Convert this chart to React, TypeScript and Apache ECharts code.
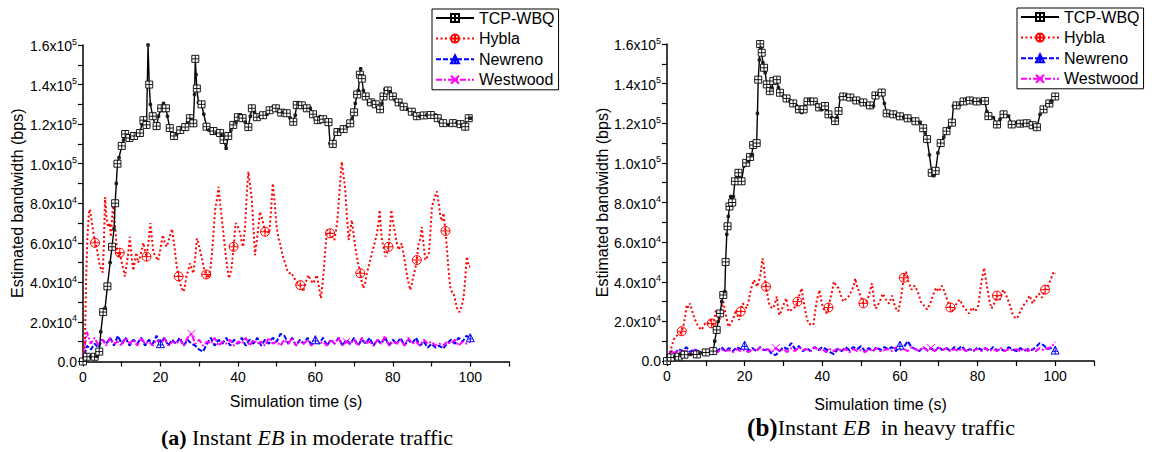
import React, { useEffect, useRef } from 'react';
import * as echarts from 'echarts';

// ---------- tick labels ----------
const xLabelValues = [0, 20, 40, 60, 80, 100];
const yLabelValues = [0, 20, 40, 60, 80, 100, 120, 140, 160];
const yLabelMantissa = ['0.0', '2.0', '4.0', '6.0', '8.0', '1.0', '1.2', '1.4', '1.6'];
const yLabelExp = ['', '4', '4', '4', '4', '5', '5', '5', '5'];
const seriesNames = ['TCP-WBQ', 'Hybla', 'Newreno', 'Westwood'];

// ---------- (a) moderate traffic, values in kbps ----------
const wbqModerate = [
  [0, 0], [0.5, 2], [1, 2.4], [2, 2.4], [3, 2.4], [3.6, 2.6], [4.2, 5], [4.6, 15], [5.2, 25], [5.7, 27], [6.3, 38], [7, 50], [7.5, 58], [8, 67],
  [8.3, 80], [8.6, 90], [8.9, 100], [9.3, 103], [10, 109], [10.5, 112], [10.9, 115], [11.5, 114], [12, 113], [12.6, 113], [13.2, 114], [14, 115],
  [14.7, 115.5], [15.2, 120], [15.6, 122], [16, 121], [16.4, 119.6], [16.8, 160], [17.1, 140], [17.4, 130], [18, 124], [18.6, 119.6], [19, 119],
  [19.5, 124], [20.2, 128], [20.8, 130.5], [21.4, 128], [21.8, 124], [22.4, 118], [22.9, 114.5], [23.5, 114], [24.2, 115], [25.1, 117], [25.7, 118],
  [26.4, 118.5], [27, 121], [27.6, 123], [28, 122], [28.5, 120.4], [28.8, 135], [29, 153], [29.2, 145], [29.4, 138], [29.8, 131], [30.6, 130],
  [31.2, 125], [31.9, 118.7], [32.5, 117], [33.7, 116.5], [34.4, 115.4], [35.4, 115.5], [35.8, 114.5], [36.3, 112], [36.95, 107.8], [37.5, 114],
  [38.2, 117], [38.8, 119.6], [39.5, 121], [40, 123.5], [40.6, 124.6], [41.2, 123], [41.9, 121], [42.7, 118.5], [43.2, 124], [43.6, 128], [44.3, 126],
  [44.9, 123.5], [45.7, 123.8], [46.5, 124.5], [47.5, 125], [48.2, 127], [49.2, 128.7], [49.8, 128], [50.5, 126.3], [51.2, 125.8], [51.8, 126],
  [52.6, 125.5], [53.5, 123], [54.3, 121.2], [54.8, 124.5], [55.2, 129.7], [55.8, 130.5], [56.5, 129.5], [57.2, 128.5], [57.8, 128], [58.7, 128],
  [59.4, 125], [60, 122.5], [60.6, 122], [61.2, 123.8], [62, 122.5], [62.8, 121.5], [63.4, 121], [63.8, 110.3], [64.5, 110], [65.1, 115], [65.7, 116],
  [66.4, 117], [67.3, 117.5], [68.2, 119], [69, 120.4], [69.5, 123], [70, 126], [70.3, 130.5], [70.8, 135], [71.1, 137], [71.5, 145], [71.7, 148],
  [72, 143], [72.4, 137], [73, 134], [73.7, 130.5], [74.4, 131], [75, 131.3], [75.6, 130], [76.3, 128], [76.7, 127.5], [77.2, 130.5], [77.6, 134],
  [78, 137.5], [78.7, 137], [79.3, 136.4], [80, 134], [80.6, 132.2], [81.5, 131], [82.2, 130], [82.8, 128.8], [83.8, 127.5], [84.9, 126.3], [85.5, 125],
  [86.2, 124], [87, 124], [88, 124.4], [88.8, 124.6], [89.8, 124.6], [91, 124.6], [91.6, 123], [92.2, 121], [93, 120.5], [94.4, 119.6], [95.5, 120.5],
  [96.6, 120.8], [97.5, 120], [98.3, 119], [98.7, 118.7], [99.1, 122.5], [99.6, 123], [100, 123],
];

const hyblaModerate = [
  [0, 0], [0.5, 10], [0.8, 41], [1.1, 61], [1.5, 75], [1.8, 77], [2.3, 70], [2.7, 65], [3.1, 60], [3.5, 58], [4, 52], [4.4, 48], [5.1, 45], [5.4, 60],
  [5.7, 83], [6.1, 72], [6.5, 68], [6.9, 70], [7.2, 63], [7.5, 72], [7.8, 81], [8.3, 68], [8.7, 58], [9.1, 53], [9.5, 55], [9.9, 51], [10.4, 47],
  [10.8, 43], [11.2, 48], [11.7, 55], [12.1, 63], [12.6, 52], [13, 46], [13.4, 51], [13.8, 55], [14.2, 50], [14.5, 51], [15, 55], [15.6, 60], [16, 56],
  [16.4, 53], [16.9, 60], [17.4, 70], [17.8, 62], [18.2, 55], [18.8, 53], [19.4, 51], [20, 57], [20.6, 64], [21.1, 60], [21.6, 58], [22.1, 61],
  [22.5, 64], [23, 67], [23.5, 60], [24.2, 48], [24.7, 43], [25.1, 39.5], [25.6, 36.5], [26, 35.3], [26.4, 39], [26.7, 43], [27.2, 46], [27.6, 49.6],
  [28.1, 47], [28.5, 44.6], [29, 53], [29.4, 62.2], [29.8, 60], [30.2, 56.4], [30.8, 51], [31.3, 46.3], [31.8, 44], [32.4, 42], [32.9, 47], [33.3, 54.6],
  [33.7, 65], [34.1, 76.6], [34.6, 82], [35, 88.3], [35.4, 80], [35.8, 73.2], [36.4, 62], [36.9, 53], [37.3, 47], [37.7, 42], [38.1, 45], [38.4, 48],
  [38.9, 58], [39.4, 70], [40, 68], [40.6, 64.8], [41, 60], [41.4, 58], [41.9, 70], [42.3, 85], [42.7, 96], [43.1, 90], [43.6, 81.6], [44, 68],
  [44.4, 53.8], [45, 63], [45.7, 75.7], [46.3, 72], [47, 65.6], [47.5, 66], [48.1, 64.8], [48.5, 75], [49, 90], [49.5, 80], [50, 68], [50.5, 62],
  [50.9, 59.7], [51.5, 54], [52.2, 49.6], [52.8, 46], [53.3, 44.6], [53.8, 45], [54.3, 43], [55.2, 40], [56.1, 38.6], [56.5, 37], [56.9, 35.3],
  [57.5, 40], [58.2, 43.7], [58.8, 41], [59.5, 39.5], [60, 42], [60.4, 43.7], [60.9, 38], [61.4, 32], [61.8, 38], [62.1, 44.6], [62.5, 55], [63, 66.5],
  [63.4, 65], [63.8, 64.8], [64.4, 63], [64.9, 61.4], [65.3, 66], [65.7, 71.5], [66.2, 85], [66.8, 101], [67.2, 95], [67.7, 87.4], [68.2, 72],
  [68.6, 61.4], [69, 66], [69.4, 71.5], [69.9, 64], [70.3, 58], [71, 50], [71.6, 44.6], [72, 40], [72.4, 37], [72.9, 40], [73.3, 44.6], [74, 50],
  [74.6, 54.6], [75.2, 59], [75.9, 64.8], [76.3, 70], [76.6, 76.6], [76.9, 68], [77.2, 61.4], [77.7, 57], [78.1, 53], [78.5, 55], [78.9, 58], [79.3, 68],
  [79.6, 76.6], [80.1, 70], [80.6, 64.8], [81, 60], [81.5, 56.4], [81.9, 58], [82.3, 59.7], [82.8, 54], [83.2, 49.6], [83.8, 42], [84.5, 36.2],
  [84.9, 39], [85.3, 43], [85.8, 47], [86.2, 51.3], [86.6, 59], [87.1, 62], [87.5, 68], [88, 58], [88.4, 51.3], [88.9, 53], [89.3, 54.6], [89.7, 65],
  [90.1, 78.3], [90.8, 83], [91.4, 86], [91.9, 79], [92.3, 73.2], [92.7, 71], [93.1, 75], [93.6, 66], [94, 56.4], [94.4, 46], [94.8, 38], [95.3, 35],
  [95.7, 34.5], [96.2, 30], [96.7, 26], [97.2, 25], [97.8, 28], [98.3, 32.8], [98.7, 42], [99.1, 53], [99.6, 48], [100, 48],
];

// one value per second, t = 0 .. 100
const newrenoModerate = [
  0, 8, 6, 9, 7, 11, 9, 12, 8, 13, 9, 12, 8, 11, 9, 12, 8, 11, 9, 13, 9, 12, 8, 11, 9, 12, 8, 11, 9, 8, 6, 5, 9, 12, 8, 11, 9, 12, 8, 11, 9, 12, 8,
  11, 9, 12, 8, 11, 9, 12, 10, 14, 13, 9, 12, 8, 11, 9, 12, 8, 11, 9, 12, 8, 11, 9, 12, 8, 11, 9, 12, 8, 11, 9, 12, 8, 11, 9, 12, 8, 11, 9, 12, 8,
  11, 9, 12, 8, 10, 7, 9, 7, 8, 6.5, 9, 11, 9, 12, 10, 13, 12,
];
const westwoodModerate = [
  2, 15, 9, 12, 8, 11, 8, 12, 9, 10, 8, 12, 9, 11, 8, 12, 9, 10, 8, 11, 9, 12, 8, 10, 9, 11, 8, 12, 14, 9, 11, 8, 10, 9, 12, 8, 10, 9, 11, 8, 10,
  9, 12, 8, 11, 9, 10, 8, 12, 9, 10, 8, 11, 9, 12, 8, 10, 9, 11, 8, 12, 9, 10, 8, 11, 9, 12, 8, 10, 9, 11, 8, 12, 9, 10, 8, 11, 9, 13, 8, 10, 9,
  11, 8, 12, 9, 10, 8, 11, 9, 10, 8, 9, 8, 10, 9, 11, 8, 10, 9, 10,
];

// ---------- (b) heavy traffic, values in kbps ----------
const wbqHeavy = [
  [0, 0], [0.5, 1.5], [1, 1.8], [2, 2], [3, 2.2], [3.5, 3.5], [4.5, 3.2], [6, 3.3], [7.7, 3.3], [8.5, 4], [10, 4.3], [11.5, 5], [11.9, 5], [12.3, 10],
  [12.8, 15.7], [13.2, 20], [13.7, 24], [14.1, 30], [14.5, 33.3], [14.9, 35], [15.1, 50], [15.4, 63.9], [15.6, 68], [15.8, 73], [16.1, 78], [16.4, 83],
  [16.8, 80], [17.1, 83], [17.5, 90.7], [18, 93], [18.4, 95], [18.8, 92], [19.2, 90.7], [19.8, 98.4], [20.4, 100], [21, 101], [21.4, 103], [21.8, 104],
  [22.2, 109], [22.7, 110.5], [23.1, 110], [23.3, 125], [23.5, 142], [23.8, 152], [24, 160], [24.2, 158], [24.4, 155.6], [24.7, 150.6], [25, 148],
  [25.3, 145.5], [25.7, 139.6], [26.1, 137], [26.5, 136.2], [27, 138], [27.4, 141.3], [27.8, 142], [28.3, 142], [28.7, 138], [29.1, 135.4], [30, 133.7],
  [30.8, 132.5], [31.7, 131.2], [32.5, 130], [33.4, 128.7], [34, 127], [34.7, 125.4], [35.2, 127], [35.6, 129.5], [36.2, 131], [36.9, 132], [37.8, 131],
  [38.6, 129.5], [39.2, 128], [39.9, 127], [40.7, 128.7], [41.2, 126], [41.6, 124.5], [42.4, 122.8], [43.3, 121.1], [43.8, 123], [44.2, 126.2],
  [44.6, 132.9], [45.4, 133.5], [46.3, 134], [47.2, 133], [48, 132], [48.8, 131.5], [49.7, 131.2], [50.6, 130.5], [51.5, 129.5], [52.3, 129],
  [53.2, 128.7], [53.7, 134], [54.5, 134.5], [55.3, 135.5], [56, 130], [56.6, 125], [57.5, 124.5], [58.3, 124.5], [59.2, 124], [60, 123.5], [61, 123],
  [62, 122.5], [63, 122], [64, 121], [65.2, 120.5], [66, 117.5], [66.5, 115], [67, 112], [67.6, 104], [68.2, 95], [68.7, 93.5], [69.2, 96], [69.8, 105],
  [70.5, 110], [71.3, 113], [72, 116], [72.7, 118], [73.4, 120.3], [73.8, 128.7], [74.6, 129], [75.5, 129.5], [76.4, 131], [77.2, 132], [78, 131.5],
  [78.9, 131.2], [79.8, 131], [80.7, 131.2], [81.9, 131.2], [82.4, 126], [82.8, 123.6], [84.1, 122.8], [85, 119.4], [85.8, 122], [86.7, 124.5],
  [88, 123.6], [88.8, 119.4], [90.1, 120.3], [91, 119.8], [91.8, 119.4], [92.7, 120], [93.6, 120.3], [94.2, 119], [94.8, 117.8], [95.3, 118],
  [96.1, 124.5], [97, 127], [97.9, 129.5], [98.5, 130], [99.1, 131.2], [100, 133.5],
];

const hyblaHeavy = [
  [0, 0], [0.3, 0.5], [0.7, 4], [1.2, 7.2], [1.6, 10], [2.1, 12.3], [2.7, 13], [3.4, 14], [3.8, 15], [4.2, 17.3], [4.7, 23], [5.1, 28.3], [5.5, 27],
  [5.9, 29], [6.4, 26], [6.8, 23.2], [7.4, 20], [8.1, 17.3], [8.5, 16.5], [8.9, 15.7], [9.3, 17], [9.8, 19], [10.4, 18.5], [11.1, 20.7], [11.5, 19],
  [11.9, 17.3], [12.2, 21], [12.6, 25.8], [13, 23], [13.5, 20.7], [14, 26], [14.5, 29.9], [15.1, 24], [15.8, 17.3], [16.3, 18.5], [16.9, 20.7],
  [17.4, 23], [17.8, 25.8], [18.2, 23], [18.6, 20.7], [19, 25], [19.5, 29.1], [20, 28], [20.5, 26.6], [21, 30], [21.4, 34.2], [21.9, 38], [22.4, 40.9],
  [22.8, 39], [23.3, 37.5], [23.6, 40], [24, 42.6], [24.3, 47], [24.6, 51.8], [25, 47.6], [25.2, 42], [25.5, 37.5], [26, 32], [26.4, 28.3], [26.9, 27],
  [27.4, 26.6], [27.8, 29], [28.3, 32.5], [28.6, 27], [28.9, 23.2], [29.4, 25], [30, 28.3], [30.7, 31.7], [31.3, 25], [31.8, 25.5], [32.4, 26.6],
  [33.2, 27.4], [33.6, 30], [34.1, 33.3], [34.7, 36.7], [35.1, 31], [35.6, 25.8], [36, 22], [36.4, 19], [37, 18.5], [37.7, 18.2], [38.1, 24],
  [38.6, 30.8], [39.3, 35.8], [39.7, 31], [40.1, 27.4], [40.6, 25.5], [41.2, 24.1], [41.6, 27], [42, 30.8], [42.5, 35], [43, 40.1], [43.6, 38],
  [44.2, 36.7], [44.8, 33], [45.4, 30], [46.3, 31.7], [47, 33], [47.6, 35.9], [48.1, 38], [48.5, 41.7], [48.9, 38], [49.3, 35.9], [50, 32], [50.6, 29.1],
  [51.3, 30], [51.9, 32.5], [52.4, 36], [52.8, 39.2], [53.2, 33], [53.6, 26.6], [54, 27], [54.8, 30], [55.6, 34], [56.4, 31], [57.2, 29], [58, 33],
  [58.8, 27], [59.6, 25], [60.3, 32], [61, 42], [61.6, 45], [62.2, 40], [63, 36], [63.8, 38], [64.6, 35], [65.4, 30], [66.2, 28], [67, 26], [67.8, 29],
  [68.5, 33], [69.3, 37], [70, 35], [70.8, 38], [71.5, 35], [72.3, 30], [73, 27], [73.8, 25], [74.6, 29], [75.4, 31], [76.2, 28], [77, 26], [77.8, 24],
  [78.6, 27], [79.4, 25], [80.2, 28], [81, 40], [81.7, 47], [82.4, 38], [83.1, 30], [83.6, 26.5], [84.3, 29], [85, 33], [85.8, 31], [86.6, 36],
  [87.4, 33], [88.2, 29], [89, 24], [89.6, 22], [90.2, 21.5], [91, 25], [91.8, 28], [92.6, 30], [93.4, 33], [94.2, 29], [95, 32], [95.8, 34], [96.6, 32],
  [97.4, 36], [98.2, 38], [99, 42], [99.6, 45], [100, 44],
];

const newrenoHeavy = [
  0, 5, 4, 6, 5, 7, 4.5, 6, 5, 4, 6, 4.5, 6.5, 5, 7, 5, 6.5, 5, 7, 6, 8, 5, 6.5, 5, 7, 5.5, 6, 3.5, 3, 5, 7, 6, 9, 6, 7.5, 5, 6.5, 5, 7, 5.5, 7, 6,
  4.5, 3.5, 6, 5, 7, 5.5, 7, 6, 7.5, 5, 6.5, 5, 7, 5.5, 7, 6, 7, 5, 8, 7, 10, 7, 6, 5, 7, 5.5, 6.5, 5, 7, 5.5, 6.5, 5, 7, 6, 7.5, 5, 6, 5, 7, 5.5,
  6.5, 5, 7, 5.5, 6, 5, 7, 6, 5, 6.5, 5, 6, 5.5, 7, 9, 8, 6, 6.5, 5.5,
];
const westwoodHeavy = [
  0, 5, 4, 5.5, 4.5, 5, 4, 5.5, 4.5, 4, 5.5, 4.5, 5, 4.5, 6, 5, 5.5, 4.5, 6, 5, 5.5, 4.5, 6, 5, 7, 5, 6, 4.5, 6.5, 5, 6, 4.5, 6.5, 5, 7, 5.5, 6, 5,
  7, 5.5, 6, 4.5, 6, 5, 6.5, 5, 6, 4.5, 6, 5, 5.5, 4.5, 6, 5, 6.5, 5, 5.5, 6, 5, 7, 5.5, 6, 5, 7, 6, 5, 7, 5.5, 6.5, 5, 7, 5.5, 6.5, 5, 6, 5, 6.5, 5,
  6, 5.5, 6, 5, 6.5, 5, 6, 5, 6.5, 5, 6, 5.5, 6, 5, 6.5, 5, 6, 5, 6.5, 5.5, 6.5, 7, 9.5,
];

// ---------- styling ----------
const SANS = 'Liberation Sans, Arial, sans-serif';
const SERIF = 'Liberation Serif, Times New Roman, serif';
const SYM_SQUARE_PLUS = 'path://M0,0H10V10H0Z M5,0V10 M0,5H10';
const SYM_CIRCLE_PLUS = 'path://M0,5A5,5,0,1,1,10,5A5,5,0,1,1,0,5Z M5,0V10 M0,5H10';
const SYM_TRI_PLUS = 'path://M5,0L10,10H0Z M5,0V10 M1.5,6.5H8.5';
const SYM_CROSS = 'path://M0,0L10,10 M10,0L0,10';

const perSecond = (vals: number[]) => vals.map((v, i) => [i, v]);

function yFormatter(v: number) {
  const i = yLabelValues.indexOf(v);
  if (i < 0) return '';
  if (!yLabelExp[i]) return `{m|${yLabelMantissa[i]}}`;
  return `{m|${yLabelMantissa[i]}x10}{s|${yLabelExp[i]}}`;
}
function xFormatter(v: number) {
  return xLabelValues.includes(v) ? String(v) : '';
}

function makeAxes(gi: number, xGap: number, yGap: number) {
  const line = { show: true, onZero: false, lineStyle: { color: '#000', width: 1.5 } };
  const tick = { show: true, length: 5, lineStyle: { color: '#000', width: 1.2 } };
  return {
    x: {
      type: 'value', gridIndex: gi, min: 0, max: 110, interval: 10,
      axisLine: line, axisTick: tick, splitLine: { show: false },
      axisLabel: { formatter: xFormatter, color: '#000', fontSize: 14, fontFamily: SANS, margin: 8, showMaxLabel: true },
      name: 'Simulation time (s)', nameLocation: 'middle', nameGap: xGap,
      nameTextStyle: { fontSize: 16, color: '#000', fontFamily: SANS },
    },
    y: {
      type: 'value', gridIndex: gi, min: 0, max: 160, interval: 10,
      axisLine: line, axisTick: tick, splitLine: { show: false },
      axisLabel: {
        formatter: yFormatter, color: '#000', margin: 6,
        rich: {
          m: { fontSize: 14, fontFamily: SANS, color: '#000', verticalAlign: 'bottom', lineHeight: 14 },
          s: { fontSize: 9, fontFamily: SANS, color: '#000', verticalAlign: 'bottom', padding: [0, 0, 7, 0] },
        },
      },
      name: 'Estimated bandwidth (bps)', nameLocation: 'middle', nameGap: yGap,
      nameTextStyle: { fontSize: 16, color: '#000', fontFamily: SANS },
    },
  };
}

function makeSeries(gi: number, wbq: number[][], hybla: number[][], newreno: number[][], westwood: number[][]) {
  const base = { type: 'line', xAxisIndex: gi, yAxisIndex: gi, showSymbol: true, animation: false, z: 2 };
  return [
    {
      ...base, name: seriesNames[2], data: newreno, symbol: SYM_TRI_PLUS,
      symbolSize: (_v: any, p: any) => (p.dataIndex % 40 === 20 ? 8 : 0),
      lineStyle: { color: '#0000ff', width: 2, type: [5, 2] },
      itemStyle: { color: '#fff', borderColor: '#0000ff', borderWidth: 1 },
    },
    {
      ...base, name: seriesNames[3], data: westwood, symbol: SYM_CROSS,
      symbolSize: (_v: any, p: any) => (p.dataIndex % 40 === 28 ? 8 : 0),
      lineStyle: { color: '#ff00ff', width: 2, type: [6, 2, 2, 2] },
      itemStyle: { color: '#fff', borderColor: '#ff00ff', borderWidth: 1 },
    },
    {
      ...base, name: seriesNames[1], data: hybla, symbol: SYM_CIRCLE_PLUS,
      symbolSize: (_v: any, p: any) => (p.dataIndex % 16 === 8 ? 9 : 0),
      lineStyle: { color: '#ff0000', width: 2, type: [2, 2.5] },
      itemStyle: { color: 'rgba(255,255,255,0)', borderColor: '#ff0000', borderWidth: 1 },
    },
    {
      ...base, name: seriesNames[0], data: wbq, symbol: SYM_SQUARE_PLUS,
      symbolSize: (_v: any, p: any) => (p.dataIndex % 2 === 0 ? 7 : 2.5),
      lineStyle: { color: '#000', width: 1.4 },
      itemStyle: { color: '#fff', borderColor: '#000', borderWidth: 0.9 },
    },
  ];
}

function makeLegend(left: number, top: number) {
  return {
    left, top, orient: 'vertical', data: seriesNames,
    backgroundColor: '#fff', borderColor: '#000', borderWidth: 1, borderRadius: 0,
    padding: [1, 4, 2, 3], itemGap: 4.6, itemWidth: 38, itemHeight: 10,
    textStyle: { fontSize: 16, fontFamily: SANS, color: '#000', lineHeight: 16 },
    selectedMode: false,
  };
}

export default function App() {
  const ref = useRef<HTMLDivElement>(null);
  useEffect(() => {
    if (!ref.current) return;
    const chart = echarts.init(ref.current, undefined, { renderer: 'svg' });
    const a = makeAxes(0, 32, 58);
    const b = makeAxes(1, 35, 57);
    chart.setOption({
      animation: false,
      backgroundColor: '#fff',
      grid: [
        { left: 83, top: 45, width: 426, height: 316.5 },
        { left: 667, top: 44, width: 427, height: 317 },
      ],
      xAxis: [a.x, b.x],
      yAxis: [a.y, b.y],
      legend: [makeLegend(432, 9), makeLegend(1017, 8)],
      series: [
        ...makeSeries(0, wbqModerate, hyblaModerate, perSecond(newrenoModerate), perSecond(westwoodModerate)),
        ...makeSeries(1, wbqHeavy, hyblaHeavy, perSecond(newrenoHeavy), perSecond(westwoodHeavy)),
      ],
      graphic: [
        {
          type: 'text', x: 307, y: 437,
          style: {
            text: '{b|(a)} Instant {i|EB} in moderate traffic',
            align: 'center', verticalAlign: 'middle',
            fontSize: 22, fontFamily: SERIF, fill: '#000',
            rich: {
              b: { fontSize: 22, fontFamily: SERIF, fontWeight: 'bold', fill: '#000' },
              i: { fontSize: 22, fontFamily: SERIF, fontStyle: 'italic', fill: '#000' },
            },
          },
        },
        {
          type: 'text', x: 881, y: 427,
          style: {
            text: '{b|(b)}Instant {i|EB}  in heavy traffic',
            align: 'center', verticalAlign: 'middle',
            fontSize: 22, fontFamily: SERIF, fill: '#000',
            rich: {
              b: { fontSize: 25, fontFamily: SERIF, fontWeight: 'bold', fill: '#000' },
              i: { fontSize: 22, fontFamily: SERIF, fontStyle: 'italic', fill: '#000' },
            },
          },
        },
      ],
    });
    return () => chart.dispose();
  }, []);
  return (
    <div
      ref={ref}
      style={{ position: 'fixed', left: 0, top: 0, width: 1157, height: 452, background: '#fff' }}
    />
  );
}
